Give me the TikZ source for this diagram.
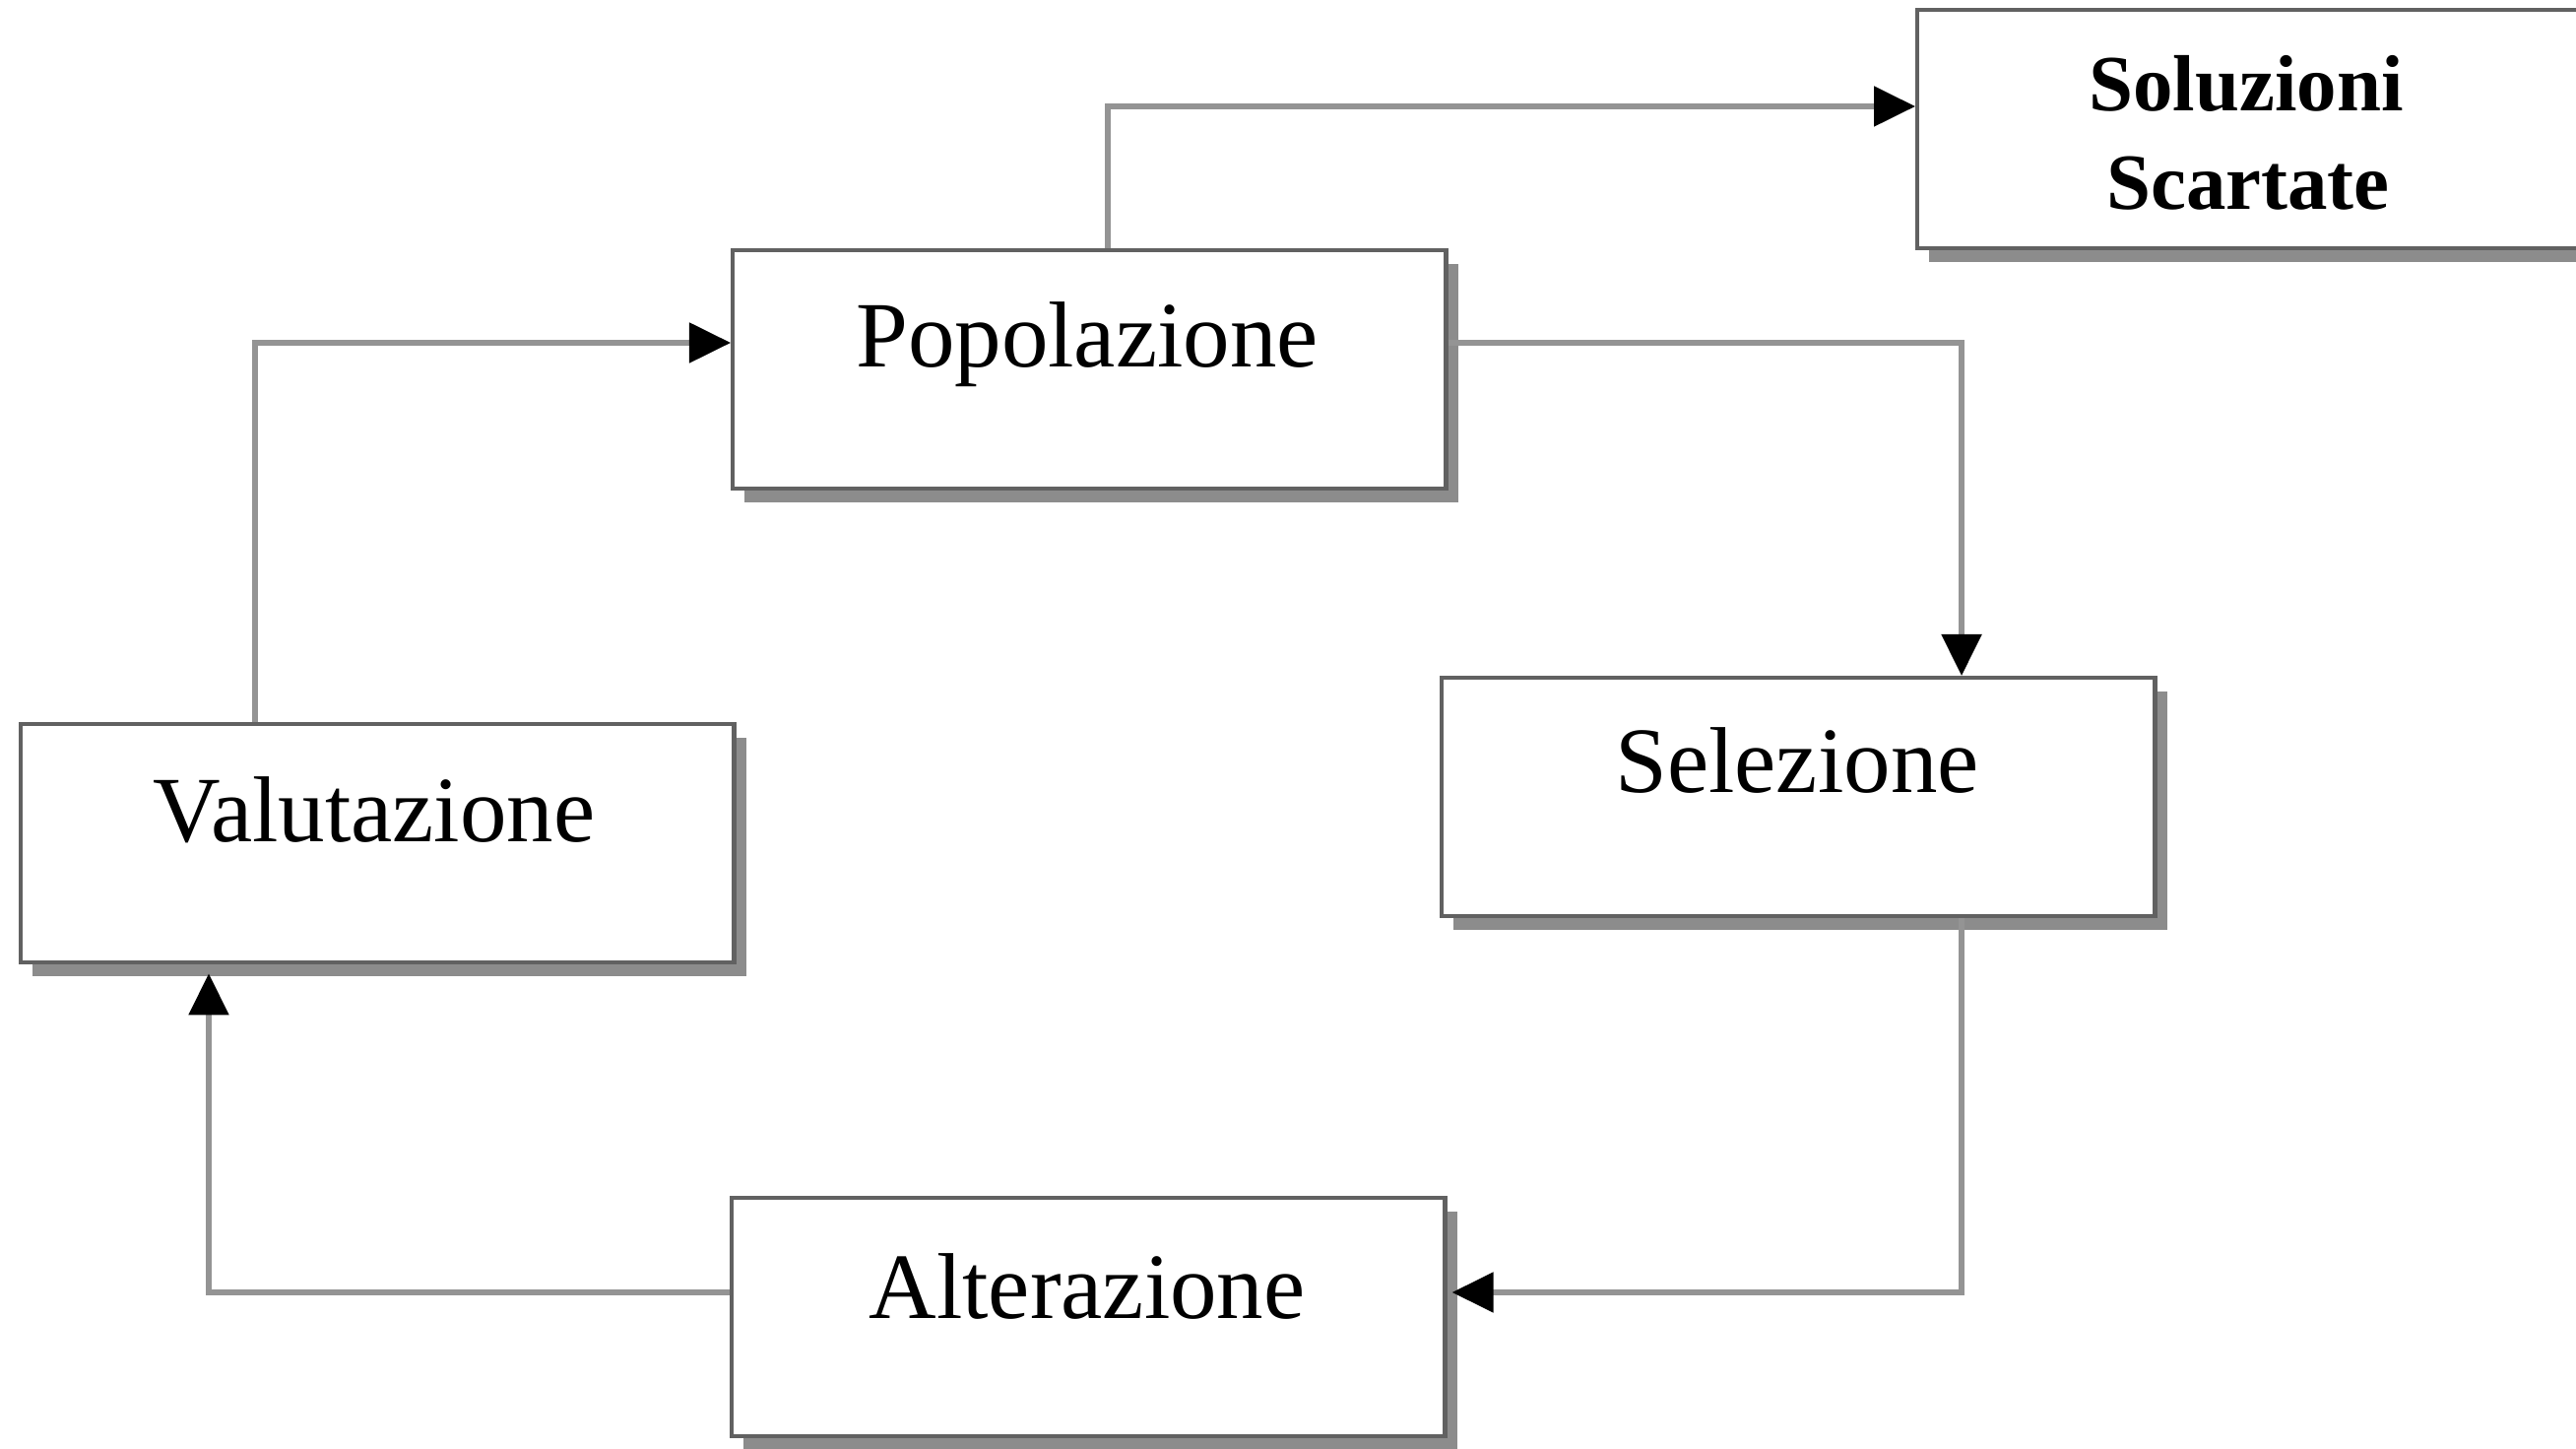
\documentclass[tikz,border=0pt]{standalone}
\usepackage{fontspec}
\setmainfont{Liberation Serif}
\usetikzlibrary{arrows.meta,shadows}
\begin{document}
\begin{tikzpicture}[x=0.01cm,y=-0.01cm,
  box/.style={draw=black!62, line width=1.2pt, fill=white, rectangle, anchor=north west,
    minimum width=7.24cm, minimum height=2.42cm, inner sep=0pt,
    drop shadow={shadow xshift=0.12cm, shadow yshift=-0.14cm, opacity=1, fill=black!45}},
  lbl/.style={anchor=base, inner sep=0pt, font=\fontsize{27}{32}\selectfont},
  blbl/.style={anchor=base, inner sep=0pt, font=\bfseries\fontsize{23}{28}\selectfont},
  conn/.style={draw=black!42, line width=1.5pt, line join=miter,
    -{Triangle[length=0.42cm, width=0.40cm, color=black, fill=black]}}
]
\useasboundingbox (0,0) rectangle (2616,1471);
% boxes
\node[box] (sol) at (1945,8) {};
\node[box] (pop) at (742,252) {};
\node[box] (sel) at (1462,686) {};
\node[box] (val) at (19,733) {};
\node[box] (alt) at (741,1214) {};
% texts
\node[blbl] (solt1) at (2281,113) {Soluzioni};
\node[blbl] (solt2) at (2283,213) {Scartate};
\node[lbl] (popt) at (1104,373) {Popolazione};
\node[lbl] (selt) at (1825,805) {Selezione};
\node[lbl] (valt) at (380,855) {Valutazione};
\node[lbl] (altt) at (1104,1338) {Alterazione};
% bends
\coordinate (v1) at (259,348);
\coordinate (p1) at (1992,348);
\coordinate (p2) at (1125,108);
\coordinate (s1) at (1992,1312);
\coordinate (a1) at (212,1312);
\coordinate (altr) at ([xshift=0.05cm]alt.east);
\coordinate (valb) at ([yshift=-0.09cm]val.south);
% connectors
\draw[conn] (val.north -| v1) -- (v1) -- (pop.west |- v1);
\draw[conn] (pop.east |- p1) -- (p1) -- (sel.north -| p1);
\draw[conn] (pop.north -| p2) -- (p2) -- (sol.west |- p2);
\draw[conn] (sel.south -| s1) -- (s1) -- (altr |- s1);
\draw[conn] (alt.west |- a1) -- (a1) -- (valb -| a1);
\end{tikzpicture}
\end{document}
